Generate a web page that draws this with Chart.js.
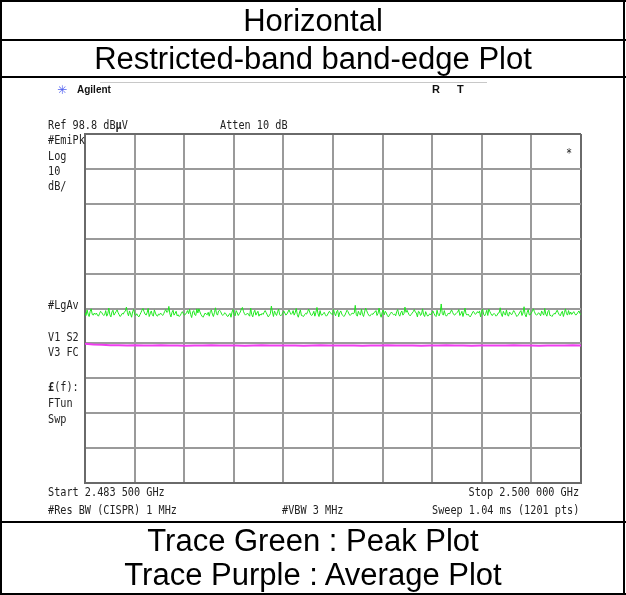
<!DOCTYPE html>
<html><head><meta charset="utf-8">
<script src="https://cdn.jsdelivr.net/npm/chart.js@4.4.0/dist/chart.umd.min.js"></script>
<style>
html,body{margin:0;padding:0;background:#fff;}
#wrap{position:relative;width:626px;height:595px;overflow:hidden;background:#fff;}
canvas{position:absolute;left:0;top:0;}
.t{position:absolute;white-space:nowrap;}
.big{font-family:"Liberation Sans",Arial,sans-serif;font-size:31px;line-height:36px;color:#000;left:0;width:626px;text-align:center;}
.m{font-family:"DejaVu Sans Mono",monospace;font-size:12px;color:#222;transform-origin:0 50%;transform:scaleX(0.85);line-height:14px;}
.r{transform-origin:100% 50%;}
.ln{position:absolute;background:#000;}
</style></head>
<body><div id="wrap">
<canvas id="c" width="626" height="595"></canvas>
<div class="ln" style="left:0;top:0;width:626px;height:2px"></div>
<div class="ln" style="left:0;top:0;width:2px;height:595px"></div>
<div class="ln" style="left:623px;top:0;width:2px;height:595px"></div>
<div class="ln" style="left:0;top:39px;width:626px;height:2px"></div>
<div class="ln" style="left:0;top:76px;width:626px;height:2px"></div>
<div class="ln" style="left:0;top:521px;width:626px;height:2px"></div>
<div class="ln" style="left:0;top:593px;width:626px;height:2px"></div>
<div class="ln" style="left:100px;top:82px;width:387px;height:1px;background:#c8c8c8"></div>
<div class="t big" style="top:3px">Horizontal</div>
<div class="t big" style="top:41px">Restricted-band band-edge Plot</div>
<div class="t big" style="top:523px">Trace Green : Peak Plot</div>
<div class="t big" style="top:557px">Trace Purple : Average Plot</div>
<div class="t" style="left:57px;top:83px;font-family:'DejaVu Sans';font-size:12px;color:#5060f0;line-height:14px">✳</div>
<div class="t" style="left:77px;top:84px;font-family:'Liberation Sans';font-weight:bold;font-size:10px;color:#111;line-height:12px">Agilent</div>
<div class="t" style="left:432px;top:83px;font-family:'Liberation Sans';font-weight:bold;font-size:11px;color:#111;line-height:13px">R</div>
<div class="t" style="left:457px;top:83px;font-family:'Liberation Sans';font-weight:bold;font-size:11px;color:#111;line-height:13px">T</div>
<div class="t m" style="left:48px;top:118px">Ref 98.8 dB<b>µ</b>V</div>
<div class="t m" style="left:220px;top:118px">Atten 10 dB</div>
<div class="t m" style="left:48px;top:133px">#EmiPk</div>
<div class="t m" style="left:48px;top:149px">Log</div>
<div class="t m" style="left:48px;top:164px">10</div>
<div class="t m" style="left:48px;top:179px">dB/</div>
<div class="t m" style="left:566px;top:146px">*</div>
<div class="t m" style="left:48px;top:298px">#LgAv</div>
<div class="t m" style="left:48px;top:330px">V1  S2</div>
<div class="t m" style="left:48px;top:345px">V3  FC</div>
<div class="t m" style="left:48px;top:380px"><b>£</b>(f):</div>
<div class="t m" style="left:48px;top:396px">FTun</div>
<div class="t m" style="left:48px;top:412px">Swp</div>
<div class="t m" style="left:48px;top:485px">Start 2.483 500 GHz</div>
<div class="t m r" style="right:47px;top:485px">Stop 2.500 000 GHz</div>
<div class="t m" style="left:48px;top:503px">#Res BW (CISPR) 1 MHz</div>
<div class="t m" style="left:282px;top:503px">#VBW 3 MHz</div>
<div class="t m r" style="right:47px;top:503px">Sweep 1.04 ms (1201 pts)</div>
</div>
<script>
// Frequency axis (MHz) and level axis (dBµV) divisions
const freqStart = 2483.5;
const freqStop = 2500.0;
const freqDivs = [2483.5, 2485.15, 2486.8, 2488.45, 2490.1, 2491.75, 2493.4, 2495.05, 2496.7, 2498.35, 2500.0];
const levelDivs = [98.8, 88.8, 78.8, 68.8, 58.8, 48.8, 38.8, 28.8, 18.8, 8.8, -1.2];

// Green trace: peak detector (dBµV), read across the sweep
const peakLevels = [
47.6,46.8,48.4,47.2,46.5,48.0,48.7,47.1,46.9,47.5,
47.1,47.5,46.9,46.6,47.3,48.0,47.7,47.2,46.8,47.0,
48.2,46.6,47.3,48.9,47.0,46.4,47.8,48.3,46.9,47.4,
47.9,48.4,47.6,47.0,46.5,46.9,47.4,47.2,47.8,48.1,
49.2,47.6,46.7,48.1,47.2,46.3,47.9,48.5,47.1,46.8,
47.3,46.7,46.4,47.0,47.6,48.3,48.8,47.9,47.2,46.9,
47.6,48.8,46.5,47.3,48.1,47.0,46.6,48.4,47.5,46.8,
46.6,47.2,47.0,47.5,47.1,46.8,47.3,48.0,48.5,47.7,
47.9,49.4,47.2,46.4,47.7,48.3,46.9,47.4,48.0,46.7,
47.0,46.5,46.8,47.4,47.9,47.3,46.9,47.1,47.6,48.2,
47.3,48.6,47.1,46.2,47.8,48.2,47.0,46.8,48.7,47.5,
48.7,47.8,47.1,46.6,46.3,46.9,47.5,47.2,47.0,47.7,
46.6,47.9,48.4,47.2,46.5,47.6,49.0,47.3,46.9,48.1,
48.3,47.9,47.2,46.8,47.1,47.6,47.3,46.7,46.5,47.0,
47.4,46.3,47.8,48.5,47.0,46.7,48.2,47.6,46.8,47.3,
47.8,48.6,49.1,48.0,47.3,46.9,47.2,47.5,47.0,46.6,
48.9,47.1,46.4,47.7,48.3,46.9,47.5,48.0,46.6,47.2,
46.9,47.4,47.1,47.7,48.2,47.6,47.0,46.4,46.8,47.3,
49.5,47.8,46.5,48.1,47.3,46.8,47.9,48.6,47.0,46.7,
47.0,47.6,48.1,47.5,46.9,47.2,47.8,48.4,47.7,47.1,
47.4,48.2,46.9,47.6,48.8,47.1,46.3,47.5,48.4,46.8,
46.7,46.5,47.0,47.4,47.2,47.9,48.6,47.8,47.0,46.8,
47.2,48.0,46.6,47.7,49.1,47.3,46.5,48.2,47.0,46.9,
47.3,47.7,47.1,46.6,46.9,47.5,48.0,47.6,47.2,47.0,
48.5,47.4,46.7,47.9,48.3,46.4,47.6,48.1,47.2,46.8,
46.5,46.9,47.6,48.3,47.9,47.2,46.8,47.1,47.5,47.3,
47.5,49.7,47.0,46.6,48.0,47.3,46.9,48.6,47.1,46.5,
47.8,48.9,48.2,47.4,46.9,46.6,47.0,47.3,47.1,47.6,
47.8,48.2,46.8,47.4,48.9,47.2,46.3,47.7,48.4,47.0,
48.0,47.5,46.8,46.4,46.9,47.4,47.8,47.3,47.0,47.2,
46.7,47.9,48.5,47.1,46.6,47.6,48.1,46.9,47.3,49.2,
47.7,48.3,47.6,47.0,46.7,47.1,47.5,47.9,48.5,47.8,
47.5,46.4,48.0,47.8,46.8,47.2,48.7,47.0,46.5,47.9,
47.1,46.6,46.9,47.3,47.0,47.6,48.1,47.4,46.8,46.5,
48.3,47.1,46.7,47.6,50.1,47.4,46.9,48.2,47.0,46.6,
47.0,47.5,47.2,47.8,48.4,47.7,47.1,46.9,47.3,47.6,
47.8,48.5,46.8,47.3,48.0,46.5,47.7,48.9,47.2,46.9,
47.2,46.7,46.4,46.9,47.5,48.0,47.6,47.1,47.4,47.9,
47.5,48.1,46.4,47.9,48.6,47.1,46.7,47.4,48.3,46.8,
48.6,47.9,47.3,46.8,47.0,47.4,47.1,46.6,46.9,47.5,
47.6,49.0,47.2,46.5,48.0,47.3,46.9,48.4,47.0,46.6,
47.8,47.3,47.0,47.6,48.2,47.7,47.1,46.5,46.8,47.2,
47.8,48.2,46.8,47.5,49.3,47.1,46.4,47.7,48.5,47.0,
47.0,47.5,48.0,48.7,47.9,47.2,46.9,47.1,47.6,47.3,
46.7,48.1,47.4,46.9,48.8,47.2,46.6,47.9,48.3,46.8,
46.8,46.5,47.0,47.4,47.2,47.8,48.3,47.6,47.0,46.7,
47.5,48.0,46.5,47.6,48.7,47.3,46.9,48.2,47.1,47.8,
47.1,47.5,47.9,47.3,46.9,47.2,47.7,48.1,47.4,47.0
];

// Purple trace: average detector (dBµV)
const avgLevels = [
38.7,38.5,38.4,38.3,38.3,38.2,38.3,38.2,38.2,38.3,
38.2,38.2,38.1,38.2,38.2,38.3,38.2,38.2,38.2,38.1,
38.2,38.3,38.2,38.2,38.2,38.2,38.1,38.2,38.3,38.2,
38.2,38.2,38.2,38.1,38.2,38.2,38.3,38.2,38.2,38.2,
38.1,38.2,38.2,38.3,38.2,38.2,38.1,38.2,38.2,38.2,
38.2,38.3,38.2,38.2,38.1,38.2,38.2,38.2,38.3,38.2
];

function toPoints(levels){
  const n = levels.length;
  return levels.map((v,i)=>({x: freqStart + (freqStop-freqStart)*i/(n-1), y: v}));
}

const edgeColor = '#6a6a6a';
const gridColor = '#9a9a9a';

new Chart(document.getElementById('c').getContext('2d'), {
  type: 'line',
  data: { datasets: [
    { label:'Average', data: toPoints(avgLevels), borderColor:'#f03cf0', borderWidth:2, pointRadius:0, tension:0 },
    { label:'Peak', data: toPoints(peakLevels), borderColor:'#1ee81e', borderWidth:1, pointRadius:0, tension:0 }
  ]},
  options: {
    responsive:false, animation:false, devicePixelRatio:1,
    layout:{ padding:{ left:85, right:45, top:134, bottom:112 } },
    plugins:{ legend:{display:false}, tooltip:{enabled:false}, title:{display:false} },
    scales:{
      x:{ type:'linear', min:freqStart, max:freqStop,
          afterBuildTicks: a => { a.ticks = freqDivs.map(v=>({value:v})); },
          ticks:{display:false},
          grid:{ drawTicks:false, lineWidth:2, color: c => (c.index===0||c.index===freqDivs.length-1)? edgeColor : gridColor },
          border:{ display:true, color:edgeColor, width:2 } },
      y:{ type:'linear', min:-1.2, max:98.8,
          afterBuildTicks: a => { a.ticks = levelDivs.slice().reverse().map(v=>({value:v})); },
          ticks:{display:false},
          grid:{ drawTicks:false, lineWidth:2, color: c => (c.index===0||c.index===levelDivs.length-1)? edgeColor : gridColor },
          border:{ display:true, color:edgeColor, width:2 } }
    }
  }
});
</script>
</body></html>
